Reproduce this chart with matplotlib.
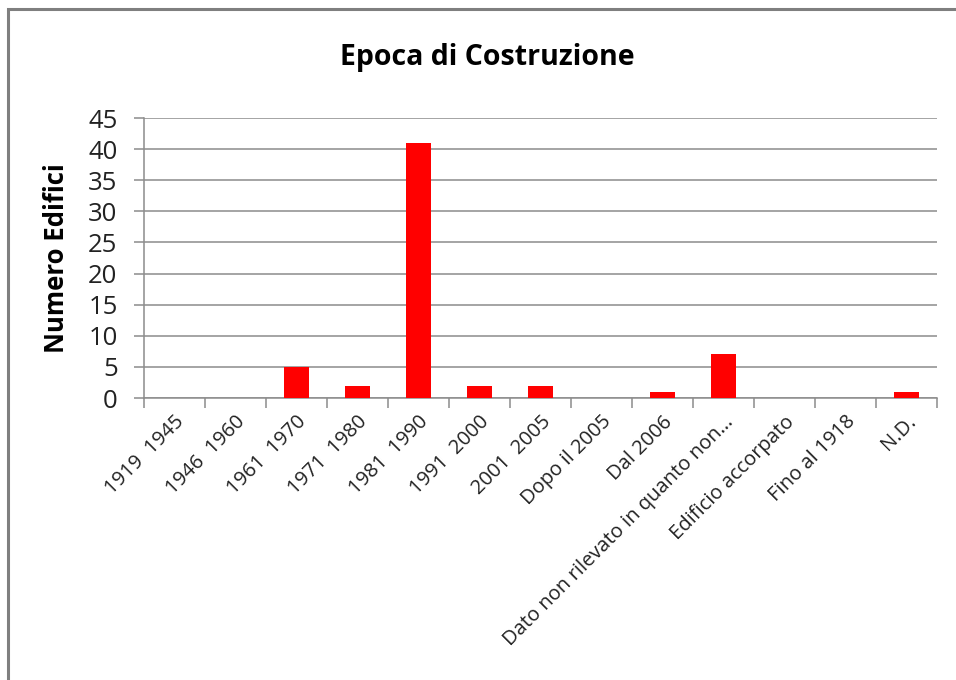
import matplotlib.pyplot as plt
from matplotlib.patches import Rectangle
import numpy as np

categories = [
    "1919  1945",
    "1946  1960",
    "1961  1970",
    "1971  1980",
    "1981  1990",
    "1991  2000",
    "2001  2005",
    "Dopo il 2005",
    "Dal 2006",
    "Dato non rilevato in quanto non…",
    "Edificio accorpato",
    "Fino al 1918",
    "N.D.",
]
edifici = [0, 0, 5, 2, 41, 2, 2, 0, 1, 7, 0, 0, 1]
y_ticks = [0, 5, 10, 15, 20, 25, 30, 35, 40, 45]

plt.rcParams["font.family"] = ["Open Sans", "DejaVu Sans"]
grey = "#8c8c8c"

fig = plt.figure(figsize=(9.56, 6.8), dpi=100)
ax = fig.add_axes([144 / 956, 1 - 398 / 680, (937 - 144) / 956, 280 / 680])

x = np.arange(len(categories))
ax.bar(x, edifici, width=0.41, color="#ff0000", zorder=3)

ax.set_xlim(-0.5, len(categories) - 0.5)
ax.set_ylim(0, 45)
ax.set_yticks(y_ticks)
ax.set_yticklabels([str(v) for v in y_ticks], fontsize=18.5, color="#222222")
ax.yaxis.grid(True, color=grey, linewidth=1.1, zorder=0)

ax.set_xticks(x)
ax.set_xticklabels(categories, rotation=45, ha="right", rotation_mode="anchor",
                   fontsize=14.5, color="#222222")
ax.set_xticks(np.arange(-0.5, len(categories), 1), minor=True)
ax.tick_params(axis="x", which="major", length=0, pad=10)
ax.tick_params(axis="x", which="minor", length=7, color=grey, width=1.1)
ax.tick_params(axis="y", length=7, color=grey, width=1.1, pad=12)

for side in ["top", "right"]:
    ax.spines[side].set_visible(False)
for side in ["left", "bottom"]:
    ax.spines[side].set_color(grey)
    ax.spines[side].set_linewidth(1.1)

ax.set_ylabel("Numero Edifici", fontsize=18.5, fontweight="bold", labelpad=13)
fig.text(487 / 956, 1 - 58 / 680, "Epoca di Costruzione", fontsize=20.5,
         fontweight="bold", ha="center", va="center")

# bordo grigio dell'area del grafico (tagliato a destra e in basso)
fig.patches.append(Rectangle((8 / 956, -0.1), 1.2, 1 - 9 / 680 + 0.1,
                             transform=fig.transFigure, fill=False,
                             edgecolor="#7f7f7f", linewidth=2.2))

fig.savefig("out.png", dpi=100)
